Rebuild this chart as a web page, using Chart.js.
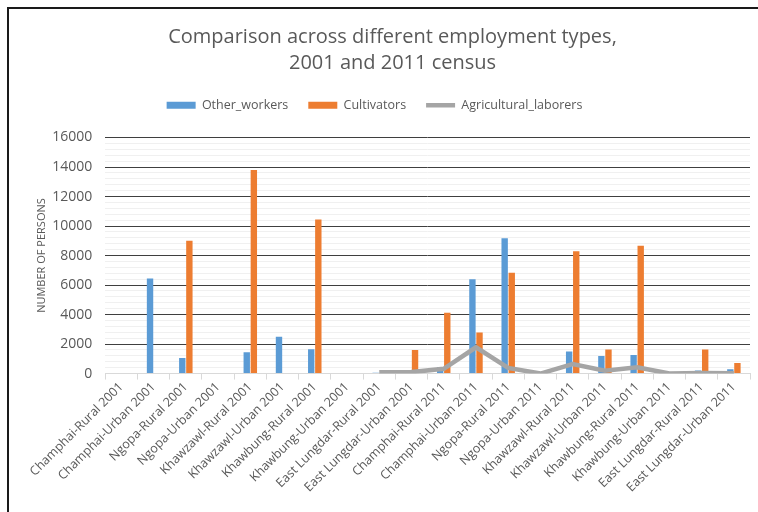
<!DOCTYPE html>
<html>
<head>
<meta charset="utf-8">
<title>Employment types, 2001 and 2011 census</title>
<script src="https://cdn.jsdelivr.net/npm/chart.js@4.4.1/dist/chart.umd.min.js"></script>
<style>
  html, body { margin: 0; padding: 0; background: #fff; }
  #wrap { width: 758px; height: 512px; position: relative; }
</style>
</head>
<body>
<div id="wrap"><canvas id="census-chart"></canvas></div>
<script>
// sub-district / area type / census year
const categories = [
  'Champhai-Rural 2001', 'Champhai-Urban 2001', 'Ngopa-Rural 2001', 'Ngopa-Urban 2001',
  'Khawzawl-Rural 2001', 'Khawzawl-Urban 2001', 'Khawbung-Rural 2001', 'Khawbung-Urban 2001',
  'East Lungdar-Rural 2001', 'East Lungdar-Urban 2001',
  'Champhai-Rural 2011', 'Champhai-Urban 2011', 'Ngopa-Rural 2011', 'Ngopa-Urban 2011',
  'Khawzawl-Rural 2011', 'Khawzawl-Urban 2011', 'Khawbung-Rural 2011', 'Khawbung-Urban 2011',
  'East Lungdar-Rural 2011', 'East Lungdar-Urban 2011'
];

const otherWorkers = [0, 6450, 1050, 0, 1450, 2500, 1650, 0, 60, 0,
  430, 6400, 9170, 0, 1490, 1190, 1260, 0, 200, 290];

const cultivators = [0, 0, 9000, 0, 13800, 0, 10450, 0, 0, 1600,
  4120, 2780, 6830, 0, 8290, 1640, 8670, 0, 1640, 720];

// no agricultural labourer figures for most 2001 rows
const agriLaborers = [null, null, null, null, null, null, null, null, 90, 100,
  320, 1780, 380, 0, 650, 200, 430, 0, 40, 30];

const yTicksMajor = [0, 2000, 4000, 6000, 8000, 10000, 12000, 14000, 16000];

const textColor = '#595959';
const fontFamily = '"Open Sans", "Liberation Sans", sans-serif';

// thin dark frame along the top and left edges
const framePlugin = {
  id: 'frame',
  beforeDraw(chart) {
    const ctx = chart.ctx;
    ctx.save();
    ctx.fillStyle = '#ffffff';
    ctx.fillRect(0, 0, chart.width, chart.height);
    ctx.restore();
  },
  afterDraw(chart) {
    const ctx = chart.ctx;
    ctx.save();
    ctx.strokeStyle = '#1a1a1a';
    ctx.lineWidth = 2;
    ctx.beginPath();
    ctx.moveTo(chart.width, 8);
    ctx.lineTo(8, 8);
    ctx.lineTo(8, chart.height);
    ctx.stroke();
    ctx.restore();
  }
};

// extra room under the legend row, and the row nudged a bit to the left
const legendGapPlugin = {
  id: 'legendGap',
  beforeLayout(chart) {
    const lg = chart.legend;
    if (lg && !lg._gapPatched) {
      const fit = lg.fit;
      lg.fit = function () {
        fit.apply(this, arguments);
        this.height += 16;
      };
      const draw = lg.draw;
      lg.draw = function () {
        this.ctx.save();
        this.ctx.translate(-18, 0);
        draw.apply(this, arguments);
        this.ctx.restore();
      };
      lg._gapPatched = true;
    }
  }
};

const ctx = document.getElementById('census-chart').getContext('2d');

new Chart(ctx, {
  type: 'bar',
  data: {
    labels: categories,
    datasets: [
      {
        type: 'bar',
        label: 'Other_workers',
        data: otherWorkers,
        backgroundColor: '#5b9bd5',
        borderWidth: 0,
        pointStyle: 'rect',
        barPercentage: 0.9,
        categoryPercentage: 0.44,
        order: 2
      },
      {
        type: 'bar',
        label: 'Cultivators',
        data: cultivators,
        backgroundColor: '#ed7d31',
        borderWidth: 0,
        pointStyle: 'rect',
        barPercentage: 0.9,
        categoryPercentage: 0.44,
        order: 3
      },
      {
        type: 'line',
        label: 'Agricultural_laborers',
        data: agriLaborers,
        borderColor: '#a5a5a5',
        backgroundColor: '#a5a5a5',
        borderWidth: 4.5,
        pointRadius: 0,
        pointStyle: 'line',
        tension: 0,
        fill: false,
        order: 1
      }
    ]
  },
  options: {
    responsive: true,
    maintainAspectRatio: false,
    animation: false,
    layout: {
      padding: { top: 16, left: 35, right: 8, bottom: 17 }
    },
    plugins: {
      title: {
        display: true,
        text: ['Comparison across different employment types,', '2001 and 2011 census'],
        color: textColor,
        font: { family: fontFamily, size: 20, weight: 'normal', lineHeight: 1.3 },
        padding: { top: 8, bottom: 3 }
      },
      legend: {
        position: 'top',
        labels: {
          color: textColor,
          font: { family: fontFamily, size: 12.5 },
          usePointStyle: true,
          pointStyleWidth: 29,
          boxHeight: 7,
          padding: 20,
          // keep dataset order in the legend regardless of draw order
          sort: (a, b) => a.datasetIndex - b.datasetIndex
        }
      },
      tooltip: { enabled: false }
    },
    scales: {
      x: {
        offset: true,
        grid: {
          offset: true,
          drawOnChartArea: false,
          drawTicks: true,
          tickLength: 6,
          color: '#d9d9d9'
        },
        border: { color: '#d9d9d9' },
        ticks: {
          color: textColor,
          font: { family: fontFamily, size: 12.5 },
          minRotation: 45,
          maxRotation: 45,
          autoSkip: false,
          padding: 0
        }
      },
      y: {
        min: 0,
        max: 16000,
        border: { display: false },
        grid: {
          drawTicks: false,
          color: c => {
            const v = c.tick ? c.tick.value : 0;
            if (v === 0) return '#d9d9d9';
            return yTicksMajor.includes(v) ? '#3f3f3f' : '#f0f0f0';
          }
        },
        ticks: {
          stepSize: 400,
          autoSkip: false,
          color: textColor,
          font: { family: fontFamily, size: 14 },
          padding: 13,
          callback: v => (yTicksMajor.includes(v) ? String(v) : '')
        },
        title: {
          display: true,
          text: 'NUMBER OF PERSONS',
          color: textColor,
          font: { family: fontFamily, size: 11 },
          padding: { top: 0, bottom: -9 }
        }
      }
    }
  },
  plugins: [framePlugin, legendGapPlugin]
});
</script>
</body>
</html>
